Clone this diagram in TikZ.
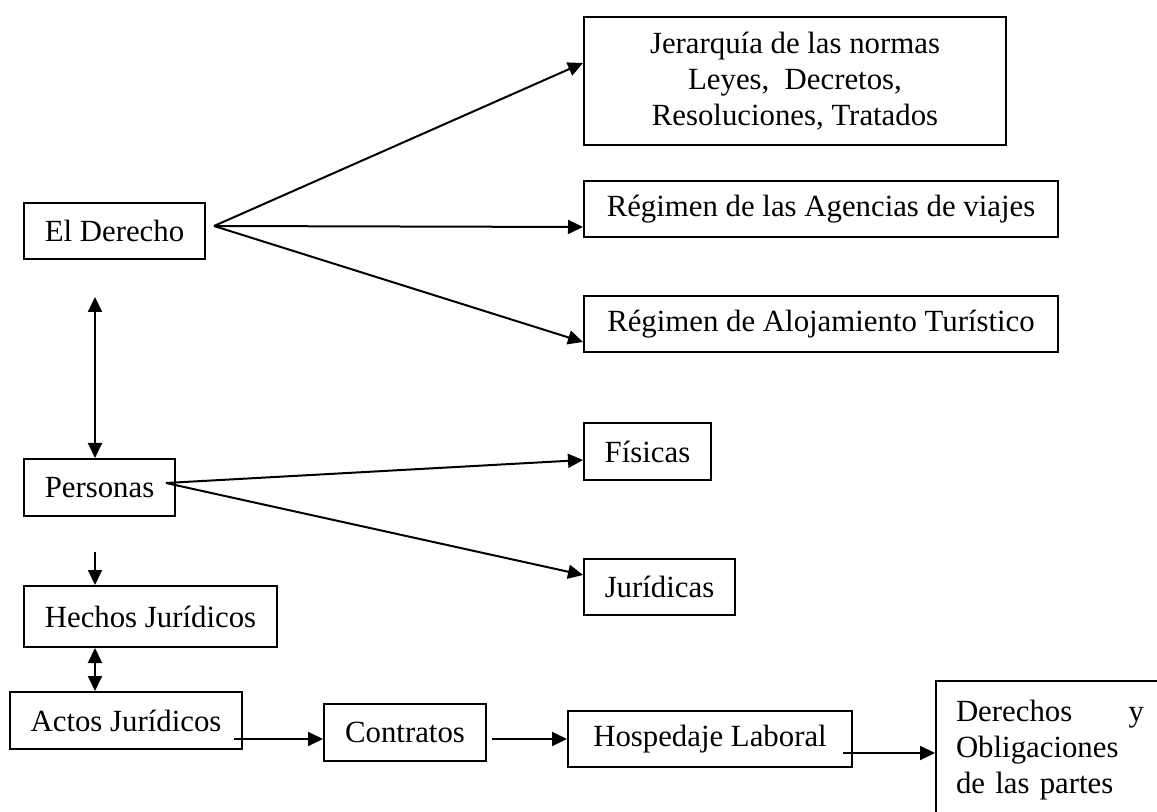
\documentclass[tikz,border=0pt]{standalone}
\usepackage{fontspec}
\setmainfont{Liberation Serif}
\usetikzlibrary{calc,positioning,arrows.meta}

\begin{document}
\begin{tikzpicture}[x=0.5pt,y=-0.5pt,line width=1pt,
  caja/.style={draw,inner sep=0pt,font=\fontsize{15.4}{18}\selectfont},
  flecha/.style={-{Triangle[length=7.5pt,width=7pt]}},
  doble/.style={{Triangle[length=7.5pt,width=7pt]}-{Triangle[length=7.5pt,width=7pt]}}]
\useasboundingbox (0,0) rectangle (1157,812);
\clip (0,0) rectangle (1157,812);
\node (derecho) [caja,minimum width=90.5pt,minimum height=28pt] at (114.5,231) {El Derecho};
\node (jerarquia) [caja,align=center,minimum width=211pt,minimum height=64pt] at (795,81) {Jerarquía de las normas\\Leyes,\ \ Decretos,\\Resoluciones, Tratados};
\node (agencias) [caja,minimum width=237pt,minimum height=28pt] at (821,209) {Régimen de las Agencias de viajes};
\node (alojamiento) [caja,minimum width=237pt,minimum height=28pt] at (821,324) {Régimen de Alojamiento Turístico};
\node (personas) [caja,minimum width=75.5pt,minimum height=28.5pt] at (99.5,487.5) {Personas};
\node (fisicas) [caja,minimum width=63.5pt,minimum height=28.5pt] at (647.5,451.5) {Físicas};
\node (juridicas) [caja,minimum width=75.5pt,minimum height=28pt] at (659.5,587) {Jurídicas};
\node (hechos) [caja,minimum width=126.5pt,minimum height=30.5pt] at (150.5,616.5) {Hechos Jurídicos};
\node (actos) [caja,minimum width=116pt,minimum height=28.5pt] at (126,720.5) {Actos Jurídicos};
\node (contratos) [caja,minimum width=81pt,minimum height=28.5pt] at (405,732.5) {Contratos};
\node (hospedaje) [caja,minimum width=142pt,minimum height=28pt] at (710,739) {Hospedaje Laboral};
\node (derechos) [caja,anchor=north west,align=left,text width=94pt,inner xsep=10pt,inner ysep=9.5pt,text depth=60pt] at (935,680) {Derechos\hfill y\\Obligaciones\\de las partes};

\coordinate (d0) at ($(derecho.east)+(8,-5)$);
\draw[flecha] (d0) -- ($(jerarquia.west)+(0,-18)$);
\draw[flecha] (d0) -- ($(agencias.west)+(0,18)$);
\draw[flecha] (d0) -- ($(alojamiento.west)+(0,18)$);

\coordinate (v0) at (95,297);
\draw[doble] (v0) -- (v0 |- personas.north);
\coordinate (p0) at ($(personas.east)+(-10,-4.5)$);
\draw[flecha] (p0) -- ($(fisicas.west)+(0,8.5)$);
\draw[flecha] (p0) -- ($(juridicas.west)+(0,-12)$);

\coordinate (v1) at (95,552);
\draw[flecha] (v1) -- (v1 |- hechos.north);
\draw[doble] (v1 |- hechos.south) -- (v1 |- actos.north);

\coordinate (a0) at ($(actos.east)+(-9,18.5)$);
\draw[flecha] (a0) -- (a0 -| contratos.west);
\draw[flecha] ($(contratos.east |- hospedaje.west)+(5,0)$) -- (hospedaje.west);
\coordinate (h0) at ($(hospedaje.east)+(-10,14)$);
\draw[flecha] (h0) -- (h0 -| derechos.west);
\end{tikzpicture}
\end{document}
